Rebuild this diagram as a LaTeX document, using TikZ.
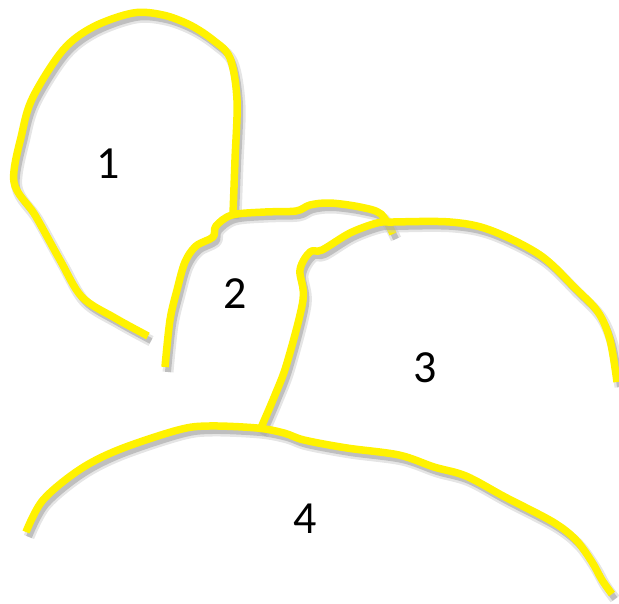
\documentclass[tikz,border=0pt]{standalone}
\usepackage{fontspec}
\setmainfont{Carlito}
\usetikzlibrary{calc}

% one hand-drawn stroke: soft grey shade first, yellow pen on top
\newcommand{\penstroke}[1]{%
  \draw[shade wide, shift={(3,5)}] plot[smooth, tension=0.55] coordinates {#1};
  \draw[shade thin, shift={(3,5)}] plot[smooth, tension=0.55] coordinates {#1};
  \draw[pen]   plot[smooth, tension=0.55] coordinates {#1};
}

\begin{document}
\begin{tikzpicture}[
  x=1pt, y=-1pt,
  pen/.style={line width=7.5pt, color=yellow, line cap=butt, line join=round},
  shade wide/.style={line width=11pt, color=gray!45, opacity=0.45, line join=round},
  shade thin/.style={line width=6pt, color=gray!70, opacity=0.6, line join=round},
  region/.style={font=\fontsize{46}{52}\selectfont, text=black, inner sep=0pt}
]
\useasboundingbox (0,0) rectangle (619,603);

% Region 1 (loop)
\penstroke{(148,336) (115,318) (82,297) (60,260) (35,215) (14,182) (22,133)
  (33,97) (63,50) (93,27) (133,13) (163,15) (190,25) (213,40) (230,58)
  (237,100) (235,160) (233,214)}

% Region 2
\penstroke{(165,367) (170,320) (177,290) (185,262) (196,246) (213,237)
  (216,226) (232,215) (265,212) (296,211) (310,205) (330,203) (360,207)
  (381,214) (393,234)}

% Region 3
\penstroke{(260,430) (275,395) (287,363) (303,300) (300,270) (310,252)
  (322,250) (350,233) (377,223) (393,222) (450,222) (490,230) (540,255)
  (575,288) (598,312) (610,340) (617,382)}

% Region 4
\penstroke{(26,532) (43,500) (79,470) (118,450) (178,430) (209,426) (257,428)
  (284,433) (304,440) (347,448) (399,455) (434,467) (466,476) (505,497)
  (553,522) (576,540) (592,562) (602,580) (612,594)}

% Labels
\node[region] (one)   at (108,164) {1};
\node[region] (two)   at (235,294) {2};
\node[region] (three) at (425,368) {3};
\node[region] (four)  at (305,519) {4};

\end{tikzpicture}
\end{document}
